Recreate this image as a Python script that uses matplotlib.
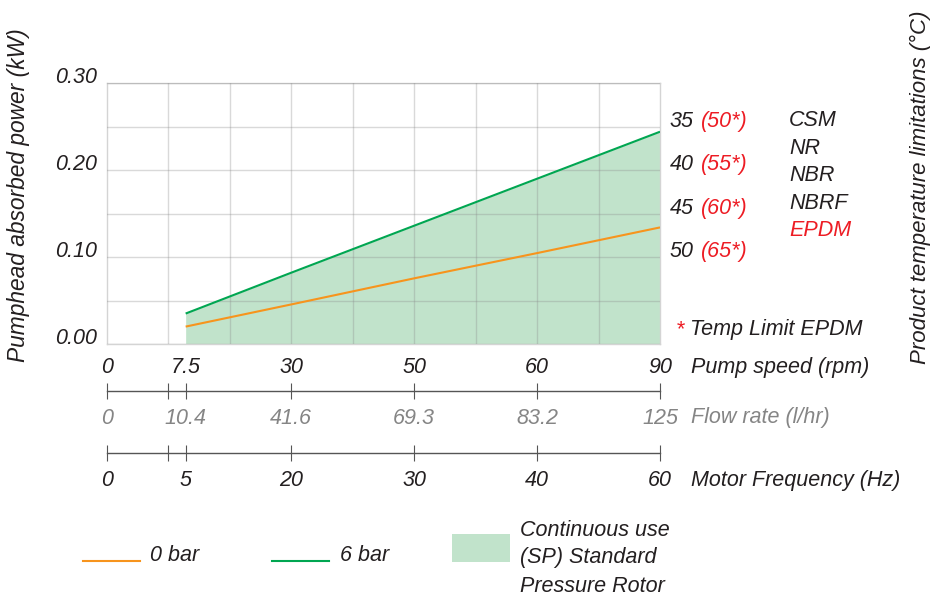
import numpy as np
import matplotlib
matplotlib.use("Agg")
import matplotlib.pyplot as plt
import matplotlib.transforms as mtransforms
from matplotlib.patches import Rectangle

# ---------------- data ----------------
speed_ticks = [0, 7.5, 30, 50, 60, 90]
speed_labels = ["0", "7.5", "30", "50", "60", "90"]
flow_labels = ["0", "10.4", "41.6", "69.3", "83.2", "125"]
freq_labels = ["0", "5", "20", "30", "40", "60"]

speed = [7.5, 30, 50, 60, 90]
power_0bar = [0.020, 0.0455, 0.0755, 0.1045, 0.134]
power_6bar = [0.035, 0.082, 0.136, 0.190, 0.244]

y_ticks = [0.00, 0.05, 0.10, 0.15, 0.20, 0.25, 0.30]
y_labels = ["0.00", "", "0.10", "", "0.20", "", "0.30"]

temp_std = ["35", "40", "45", "50"]
temp_epdm = ["(50*)", "(55*)", "(60*)", "(65*)"]
temp_levels = [0.25, 0.20, 0.15, 0.10]
materials = ["CSM", "NR", "NBR", "NBRF", "EPDM"]
material_colors = ["#231f20", "#231f20", "#231f20", "#231f20", "#ed1c24"]

# ---------------- style ----------------
W, H = 931, 596
FONT = ["Liberation Sans", "DejaVu Sans"]
plt.rcParams["font.family"] = FONT
plt.rcParams["font.style"] = "italic"
FS = 15.5
TXT = "#231f20"
GREY_TXT = "#858585"
RED = "#ed1c24"
ORANGE = "#f7941d"
GREEN = "#00a651"
FILL = "#c1e3cb"
GRID = "#8c8c8c"
AXLINE = "#555555"

def fx(x):
    return x / W

def fy(y):
    return 1 - y / H

# nominal (non-linear) speed scale: tick positions in grid-column units
tick_units = [0, 1.28, 3, 5, 7, 9]

def fwd(v):
    return np.interp(v, speed_ticks, tick_units)

def inv(u):
    return np.interp(u, tick_units, speed_ticks)

grid_cols = inv(np.arange(1, 9))
break_tick = inv([1.0])

fig = plt.figure(figsize=(W / 100, H / 100), dpi=100)

# ---------------- main axes ----------------
ax = fig.add_axes([fx(107), fy(344), 553 / W, 261 / H])
ax.set_xscale("function", functions=(fwd, inv))
ax.set_xlim(0, 90)
ax.set_ylim(0, 0.30)

ax.fill_between(speed, 0, power_6bar, color=FILL, lw=0, zorder=1)
ax.plot(speed, power_0bar, color=ORANGE, lw=1.5, zorder=3, solid_capstyle="butt")
ax.plot(speed, power_6bar, color=GREEN, lw=1.5, zorder=3, solid_capstyle="butt")

ax.set_yticks(y_ticks)
ax.set_yticklabels(y_labels)
ax.set_xticks(speed_ticks)
ax.set_xticklabels(speed_labels)
ax.set_xticks(grid_cols, minor=True)
ax.xaxis.remove_overlapping_locs = False
ax.tick_params(axis="both", which="both", length=0)
ax.tick_params(axis="y", pad=7.5, labelsize=FS, labelcolor=TXT)
ax.tick_params(axis="x", pad=9.6, labelsize=FS, labelcolor=TXT)
for lab in ax.get_yticklabels():
    lab.set_va("baseline")
    lab.set_fontstyle("italic")
for lab in ax.get_xticklabels():
    lab.set_fontstyle("italic")

ax.set_axisbelow(False)
ax.yaxis.grid(True, which="major", color=GRID, alpha=0.33, lw=1.0, zorder=2)
ax.xaxis.grid(True, which="minor", color=GRID, alpha=0.33, lw=1.0, zorder=2)
ax.xaxis.grid(False, which="major")
for gl in ax.get_xgridlines() + ax.get_ygridlines():
    gl.set_zorder(2)
for sp in ax.spines.values():
    sp.set_color("#d4d4d4")
    sp.set_linewidth(1.0)

# ---------------- secondary scale rows ----------------
def scale_row(y_px, labels, color):
    a = fig.add_axes([fx(107), fy(y_px), 553 / W, 0.0001])
    a.set_xscale("function", functions=(fwd, inv))
    a.set_xlim(0, 90)
    a.set_ylim(0, 1)
    a.patch.set_visible(False)
    for k in ("top", "left", "right"):
        a.spines[k].set_visible(False)
    a.spines["bottom"].set_color(AXLINE)
    a.spines["bottom"].set_linewidth(1.0)
    a.set_yticks([])
    a.set_xticks(speed_ticks)
    a.set_xticklabels(labels)
    a.set_xticks(break_tick, minor=True)
    a.tick_params(axis="x", which="both", direction="inout", length=11.5,
                  width=0.8, color=AXLINE, labelsize=FS, labelcolor=color, pad=6.9)
    for lab in a.get_xticklabels():
        lab.set_fontstyle("italic")
    return a

scale_row(390.7, flow_labels, GREY_TXT)
scale_row(452.7, freq_labels, TXT)

# row titles
fig.text(fx(691), fy(373), "Pump speed (rpm)", fontsize=FS, color=TXT, va="baseline", ha="left")
fig.text(fx(691), fy(423.5), "Flow rate (l/hr)", fontsize=FS, color=GREY_TXT, va="baseline", ha="left")
fig.text(fx(691), fy(486), "Motor Frequency (Hz)", fontsize=FS, color=TXT, va="baseline", ha="left")

# axis titles
fig.text(fx(19), fy(195), "Pumphead absorbed power (kW)", rotation=90, fontsize=16.4,
         color=TXT, ha="center", va="center")
fig.text(fx(920), fy(187), "Product temperature limitations (°C)", rotation=90, fontsize=16,
         color=TXT, ha="center", va="center")

# temperature limits (right side)
blend = mtransforms.blended_transform_factory(fig.transFigure, ax.transData)
for t_std, t_ep, lvl in zip(temp_std, temp_epdm, temp_levels):
    ax.text(fx(670), lvl, t_std, transform=blend, fontsize=FS, color=TXT,
            va="baseline", ha="left", clip_on=False)
    ax.text(fx(701), lvl, t_ep, transform=blend, fontsize=FS, color=RED,
            va="baseline", ha="left", clip_on=False)

for i, (m, c) in enumerate(zip(materials, material_colors)):
    fig.text(fx(789), fy(126 + i * 27.6), m, fontsize=FS, color=c, va="baseline", ha="left")

fig.text(fx(676), fy(335), "*", fontsize=FS, color=RED, va="baseline", ha="left")
fig.text(fx(690), fy(335), "Temp Limit EPDM", fontsize=FS, color=TXT, va="baseline", ha="left")

# ---------------- legend (drawn in a pixel overlay) ----------------
lg = fig.add_axes([0, 0, 1, 1])
lg.set_xlim(0, W)
lg.set_ylim(H, 0)
lg.axis("off")
lg.plot([83, 140], [560.7, 560.7], color=ORANGE, lw=1.5)
lg.text(150, 560.7, "0 bar", fontsize=FS, color=TXT, va="baseline", ha="left")
lg.plot([272, 329], [560.7, 560.7], color=GREEN, lw=1.5)
lg.text(340, 560.7, "6 bar", fontsize=FS, color=TXT, va="baseline", ha="left")
lg.add_patch(Rectangle((452, 534), 58, 28, color=FILL, lw=0))
for i, line in enumerate(["Continuous use", "(SP) Standard", "Pressure Rotor"]):
    lg.text(520, 535.5 + i * 28, line, fontsize=FS, color=TXT, va="baseline", ha="left")

fig.savefig("out.png", dpi=100)
